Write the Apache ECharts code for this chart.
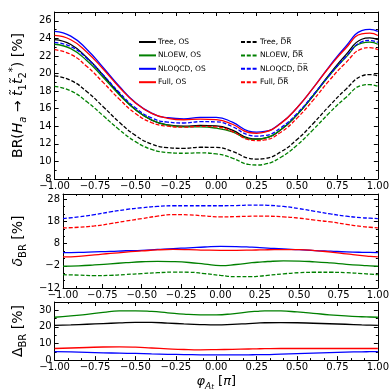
<!DOCTYPE html>
<html><head><meta charset="utf-8">
<script src="https://cdn.jsdelivr.net/npm/echarts@6/dist/echarts.min.js"></script>
<style>html,body{margin:0;padding:0;background:#fff}#c{width:392px;height:392px}</style>
</head><body><div id="c"></div><script>
// ---- data ----
const phi = [-1,-0.9,-0.8,-0.7,-0.6,-0.5,-0.4,-0.3,-0.2,-0.1,0,0.1,0.2,0.25,0.3,0.4,0.5,0.6,0.7,0.8,0.9,0.95,1];
const xTicks = [-1,-0.75,-0.5,-0.25,0,0.25,0.5,0.75,1];
const yTicksTop = [8,10,12,14,16,18,20,22,24,26];
const yTicksMid = [-12,-2,8,18,28];
const yTicksBot = [0,10,20,30];

const brTreeOS   = [23.85,23.3,21.8,19.8,17.7,15.9,14.7,14.15,14.0,14.1,14.05,13.55,12.65,12.55,12.65,13.6,15.3,17.5,19.9,22.1,23.9,24.05,23.85];
const brNLOEWOS  = [23.33,22.83,21.45,19.58,17.59,15.88,14.71,14.14,13.93,13.93,13.78,13.36,12.57,12.51,12.64,13.63,15.32,17.47,19.76,21.81,23.47,23.57,23.33];
const brNLOQCDOS = [24.80,24.26,22.74,20.69,18.55,16.70,15.49,14.97,14.85,15.02,15.01,14.46,13.46,13.33,13.41,14.36,16.11,18.36,20.82,23.05,24.88,25.02,24.80];
const brFullOS   = [24.33,23.84,22.43,20.51,18.44,16.65,15.46,14.91,14.74,14.82,14.75,14.23,13.29,13.20,13.32,14.33,16.11,18.36,20.74,22.85,24.52,24.60,24.33];
const brTreeDR   = [19.73,19.22,17.93,16.23,14.46,12.96,11.98,11.57,11.49,11.61,11.59,11.15,10.37,10.27,10.33,11.09,12.49,14.32,16.32,18.17,19.72,19.88,19.73];
const brNLOEWDR  = [18.55,18.03,16.78,15.21,13.61,12.25,11.37,11.01,10.93,10.97,10.86,10.38,9.66,9.59,9.68,10.47,11.85,13.62,15.52,17.24,18.64,18.74,18.55];
const brNLOQCDDR = [23.54,23.08,21.71,19.85,17.84,16.10,14.95,14.47,14.37,14.52,14.50,13.96,13.00,12.88,12.94,13.84,15.46,17.56,19.81,21.88,23.60,23.76,23.54];
const brFullDR   = [22.71,22.18,20.80,18.99,17.09,15.46,14.42,14.01,13.90,13.99,13.92,13.40,12.48,12.37,12.44,13.32,14.93,16.98,19.22,21.20,22.80,22.94,22.71];

const deltaNLOEWOS  = [-2.2,-2.0,-1.6,-1.1,-0.6,-0.15,0.05,-0.1,-0.5,-1.2,-1.9,-1.4,-0.6,-0.3,-0.05,0.2,0.15,-0.2,-0.7,-1.3,-1.8,-2.0,-2.2];
const deltaNLOQCDOS = [4.0,4.1,4.3,4.5,4.8,5.0,5.4,5.8,6.1,6.5,6.8,6.7,6.4,6.2,6.0,5.6,5.3,4.9,4.6,4.3,4.1,4.05,4.0];
const deltaFullOS   = [2.0,2.3,2.9,3.6,4.2,4.7,5.2,5.4,5.3,5.1,5.0,5.0,5.1,5.2,5.25,5.35,5.3,4.9,4.2,3.4,2.6,2.3,2.0];
const deltaNLOEWDR  = [-6.0,-6.2,-6.4,-6.3,-5.9,-5.5,-5.1,-4.85,-4.9,-5.5,-6.3,-6.9,-6.9,-6.65,-6.3,-5.6,-5.1,-4.9,-4.9,-5.1,-5.5,-5.75,-6.0];
const deltaNLOQCDDR = [19.3,20.1,21.1,22.3,23.4,24.2,24.8,25.1,25.1,25.1,25.1,25.2,25.4,25.4,25.3,24.8,23.8,22.6,21.4,20.4,19.7,19.5,19.3];
const deltaFullDR   = [15.1,15.4,16.0,17.0,18.2,19.3,20.4,21.1,21.0,20.5,20.1,20.2,20.4,20.45,20.4,20.1,19.5,18.6,17.8,16.7,15.7,15.4,15.1];

const DeltaTree   = [20.9,21.2,21.6,22.0,22.4,22.7,22.7,22.3,21.8,21.4,21.2,21.5,22.0,22.25,22.5,22.6,22.5,22.2,21.9,21.6,21.2,21.05,20.9];
const DeltaNLOEW  = [25.8,26.6,27.6,28.7,29.6,29.7,29.3,28.5,27.7,27.3,27.3,27.9,29.0,29.4,29.7,29.6,29.0,28.2,27.3,26.6,26.1,25.95,25.8];
const DeltaNLOQCD = [5.1,4.9,4.7,4.4,4.2,4.0,3.7,3.5,3.3,3.2,3.1,3.1,3.2,3.25,3.3,3.6,3.9,4.2,4.5,4.8,5.0,5.05,5.1];
const DeltaFull   = [7.0,7.3,7.6,7.9,8.0,7.8,7.3,6.8,6.4,6.2,6.3,6.5,6.7,6.8,6.9,7.0,7.0,7.0,7.0,7.0,7.0,7.0,7.0];

const OL = '\u0305';
const DRbar = 'D' + OL + 'R' + OL;
const namesOS = ['Tree, OS','NLOEW, OS','NLOQCD, OS','Full, OS'];
const namesDR = ['Tree, ' + DRbar,'NLOEW, ' + DRbar,'NLOQCD, ' + DRbar,'Full, ' + DRbar];
const colors = {tree:'#000000', ew:'#008000', qcd:'#0000ff', full:'#ff0000'};

// ---- chart ----
const FF = 'DejaVu Sans';
const minus = v => (v < 0 ? '\u2212' : '') + Math.abs(v);
const near = (v, arr) => arr.some(t => Math.abs(t - v) < 1e-6);

function xAxisPair(gi, showLabel, withName) {
  const base = {
    gridIndex: gi, type: 'value', min: -1, max: 1, interval: 0.25,
    axisLine: {show: true, onZero: false, lineStyle: {color: '#000', width: 1}},
    axisTick: {show: true, inside: true, length: 4, lineStyle: {color: '#000'}},
    minorTick: {show: true, splitNumber: 3, length: 2, lineStyle: {color: '#000'}},
    splitLine: {show: false}
  };
  const bottom = Object.assign({}, base, {
    position: 'bottom',
    axisLabel: {show: showLabel, margin: 2, fontFamily: FF, fontSize: 10, color: '#000',
      formatter: v => near(v, xTicks) ? (v < 0 ? '\u2212' : '') + Math.abs(v).toFixed(2) : ''}
  });
  if (withName) {
    bottom.name = '{i|φ}{s|A}{ss|t}{n| [}{i|π}{n|]}';
    bottom.nameLocation = 'middle';
    bottom.nameGap = 11;
    bottom.nameTextStyle = {fontFamily: FF, fontSize: 13, color: '#000', lineHeight: 18,
      rich: {i: {fontSize: 13, fontStyle: 'italic', fontFamily: FF},
             n: {fontSize: 13, fontFamily: FF},
             s: {fontSize: 9, fontStyle: 'italic', fontFamily: FF, verticalAlign: 'bottom'},
             ss: {fontSize: 7, fontStyle: 'italic', fontFamily: FF, verticalAlign: 'bottom', padding: [4,0,0,0]}}};
  }
  const top = Object.assign({}, base, {position: 'top', axisLabel: {show: false}});
  return [bottom, top];
}

function yAxisPair(gi, min, max, interval, minorSplit, ticks, name, nameGap) {
  const base = {
    gridIndex: gi, type: 'value', min: min, max: max, interval: interval,
    axisLine: {show: true, onZero: false, lineStyle: {color: '#000', width: 1}},
    axisTick: {show: true, inside: true, length: 4, lineStyle: {color: '#000'}},
    minorTick: {show: true, splitNumber: minorSplit, length: 2, lineStyle: {color: '#000'}},
    splitLine: {show: false}
  };
  const left = Object.assign({}, base, {
    position: 'left',
    axisLabel: {show: true, margin: 3, fontFamily: FF, fontSize: 10, color: '#000', showMaxLabel: false,
      formatter: v => near(v, ticks) ? minus(Math.round(v)) : ''},
    name: name, nameLocation: 'middle', nameRotate: 90, nameGap: nameGap,
    nameTextStyle: {fontFamily: FF, fontSize: 14, color: '#000', lineHeight: 20,
      rich: {n: {fontSize: 14, fontFamily: FF},
             i: {fontSize: 14, fontFamily: FF, fontStyle: 'italic'},
             s: {fontSize: 10, fontFamily: FF, verticalAlign: 'bottom'},
             si: {fontSize: 10, fontFamily: FF, fontStyle: 'italic', verticalAlign: 'bottom'},
             p: {fontSize: 10, fontFamily: FF, verticalAlign: 'top'}}}
  });
  const right = Object.assign({}, base, {position: 'right', axisLabel: {show: false}});
  return [left, right];
}

const xAxes = [...xAxisPair(0, true, false), ...xAxisPair(1, true, false), ...xAxisPair(2, true, true)];
const yAxes = [
  ...yAxisPair(0, 8, 27, 2, 2, yTicksTop,
    '{n|BR(}{i|H}{si|a}{n| → }{i|t̃}{s|1}{i|t̃}{s|2}{p|*}{n|) [%]}', 23),
  ...yAxisPair(1, -12, 30.4, 10, 3, yTicksMid, '{i|δ}{s|BR}{n| [%]}', 25),
  ...yAxisPair(2, 0, 35, 10, 2, yTicksBot, '{n|Δ}{s|BR}{n| [%]}', 20)
];

function mk(name, arr, color, dashed, xi, yi) {
  return {
    name: name, type: 'line', xAxisIndex: xi, yAxisIndex: yi,
    data: phi.map((p, i) => [p, arr[i]]),
    smooth: true, showSymbol: false, symbol: 'none',
    lineStyle: {color: color, width: 1.3, type: dashed ? [4, 1.8] : 'solid'},
    itemStyle: {color: color},
    emphasis: {disabled: true}
  };
}

const series = [
  mk(namesOS[0], brTreeOS, colors.tree, false, 0, 0),
  mk(namesOS[1], brNLOEWOS, colors.ew, false, 0, 0),
  mk(namesOS[2], brNLOQCDOS, colors.qcd, false, 0, 0),
  mk(namesOS[3], brFullOS, colors.full, false, 0, 0),
  mk(namesDR[0], brTreeDR, colors.tree, true, 0, 0),
  mk(namesDR[1], brNLOEWDR, colors.ew, true, 0, 0),
  mk(namesDR[2], brNLOQCDDR, colors.qcd, true, 0, 0),
  mk(namesDR[3], brFullDR, colors.full, true, 0, 0),

  mk('δ NLOEW OS', deltaNLOEWOS, colors.ew, false, 2, 2),
  mk('δ NLOQCD OS', deltaNLOQCDOS, colors.qcd, false, 2, 2),
  mk('δ Full OS', deltaFullOS, colors.full, false, 2, 2),
  mk('δ NLOEW DR', deltaNLOEWDR, colors.ew, true, 2, 2),
  mk('δ NLOQCD DR', deltaNLOQCDDR, colors.qcd, true, 2, 2),
  mk('δ Full DR', deltaFullDR, colors.full, true, 2, 2),

  mk('Δ Tree', DeltaTree, colors.tree, false, 4, 4),
  mk('Δ NLOEW', DeltaNLOEW, colors.ew, false, 4, 4),
  mk('Δ NLOQCD', DeltaNLOQCD, colors.qcd, false, 4, 4),
  mk('Δ Full', DeltaFull, colors.full, false, 4, 4)
];

const legendBase = {
  orient: 'vertical', itemWidth: 17, itemHeight: 10, itemGap: 5.4,
  textStyle: {fontFamily: FF, fontSize: 7.5, color: '#000', padding: [0,0,0,-3]},
  itemStyle: {opacity: 0},
  selectedMode: false
};

const chart = echarts.init(document.getElementById('c'), null, {renderer: 'canvas'});
chart.setOption({
  animation: false,
  backgroundColor: '#fff',
  grid: [
    {left: 43, right: 11, top: 12, height: 167},
    {left: 43, right: 11, top: 194, height: 94},
    {left: 43, right: 11, top: 302, height: 59}
  ],
  xAxis: xAxes,
  yAxis: yAxes,
  legend: [
    Object.assign({}, legendBase, {left: 133, top: 33, data: namesOS}),
    Object.assign({}, legendBase, {left: 235, top: 33, data: namesDR})
  ],
  series: series
});
</script></body></html>
